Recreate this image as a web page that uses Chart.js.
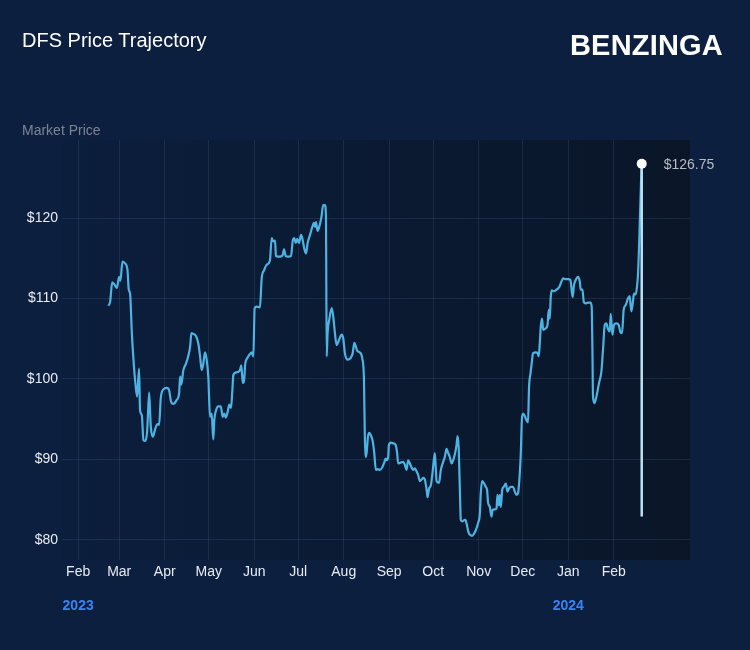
<!DOCTYPE html>
<html>
<head>
<meta charset="utf-8">
<script src="https://cdn.jsdelivr.net/npm/chart.js@4.4.1/dist/chart.umd.min.js"></script>
<style>
  html, body { margin: 0; padding: 0; background: #0c1f3f; overflow: hidden; }
  .wrap { position: relative; width: 750px; height: 650px; font-family: 'Liberation Sans', Arial, sans-serif; }
  .title { position: absolute; left: 22px; top: 29px; color: #ffffff; font-size: 20px; }
  .brand { position: absolute; right: 27px; top: 29px; color: #ffffff; font-size: 29px; font-weight: bold; letter-spacing: 0.2px; }
  .unit { position: absolute; left: 22px; top: 122px; color: #7d8594; font-size: 14px; }
  canvas { position: absolute; left: 0; top: 0; }
</style>
</head>
<body>
<div class="wrap">
  <canvas id="chartPrice" width="750" height="650"></canvas>
  <div class="title">DFS Price Trajectory</div>
  <div class="brand">BENZINGA</div>
  <div class="unit">Market Price</div>
</div>
<script>
// ====== DATA (day 0 = 1 Feb 2023) ======
const days = [
  20.6, 21.8, 23.2, 24.5, 26.4, 27.9, 28.8, 30.2, 31.8, 33.6, 34.5, 35.4, 36.6, 37.7, 39.0, 40.2,
  41.5, 42.2, 43.4, 44.5, 45.6, 47.0, 48.4, 49.5, 50.9, 52.4, 54.0, 55.2, 56.3, 58.1, 60.4, 62.0,
  63.3, 64.9, 67.2, 68.8, 69.5, 70.3, 71.7, 73.5, 75.1, 76.3, 77.2, 78.5, 80.4, 81.9, 83.1, 84.2,
  85.3, 86.5, 87.6, 88.7, 89.9, 91.0, 92.1, 92.8, 94.0, 95.5, 97.2, 98.5, 99.6, 100.6, 101.9, 103.0,
  104.2, 105.1, 105.8, 107.4, 109.2, 110.3, 111.2, 112.2, 113.0, 113.9, 115.3, 117.1, 118.3, 119.4, 120.3, 121.7,
  123.9, 125.1, 126.7, 128.5, 130.7, 131.9, 133.0, 134.2, 134.8, 136.4, 137.6, 139.4, 140.3, 141.4, 143.2, 145.1,
  146.2, 147.3, 148.3, 149.3, 150.5, 151.9, 153.0, 154.1, 155.3, 156.4, 158.0, 159.6, 160.7, 161.4, 162.1, 163.2,
  164.3, 165.7, 167.0, 168.2, 168.9, 169.4, 170.0, 171.1, 172.8, 173.9, 175.0, 176.2, 177.7, 179.6, 180.7, 181.8,
  183.7, 185.7, 187.1, 188.2, 189.3, 190.2, 192.0, 193.6, 194.8, 195.4, 196.3, 197.5, 198.4, 199.5, 200.7, 201.8,
  202.9, 204.1, 205.7, 207.2, 208.6, 209.5, 210.2, 211.3, 211.8, 213.2, 214.7, 216.4, 217.4, 218.1, 219.8, 221.5,
  222.7, 223.8, 224.9, 226.1, 227.2, 228.3, 229.5, 230.7, 231.7, 232.9, 234.1, 235.2, 236.3, 237.5, 238.1, 239.2,
  240.4, 241.5, 243.1, 243.8, 244.3, 246.0, 247.2, 248.8, 249.9, 251.1, 252.2, 253.3, 254.5, 255.6, 256.7, 257.9,
  258.6, 259.3, 260.1, 260.8, 262.0, 263.5, 264.2, 265.1, 266.3, 267.4, 268.5, 269.9, 271.0, 272.6, 273.8, 274.4,
  275.3, 276.7, 277.8, 278.7, 279.4, 280.6, 281.7, 282.4, 284.0, 285.1, 285.8, 286.7, 287.4, 288.1, 289.0, 290.1,
  291.5, 292.6, 293.7, 294.9, 296.4, 297.6, 298.7, 299.8, 301.0, 301.7, 302.4, 303.2, 304.4, 305.5, 306.6, 307.3,
  308.3, 309.4, 310.0, 311.9, 313.1, 313.9, 314.6, 315.3, 316.2, 316.9, 318.7, 319.9, 320.7, 321.4, 322.1, 322.8,
  324.1, 326.0, 327.8, 329.4, 330.5, 332.3, 333.9, 335.5, 336.4, 337.1, 337.8, 339.1, 340.7, 341.9, 342.5, 343.7,
  344.6, 345.9, 347.5, 349.1, 350.0, 350.5, 350.9, 351.9, 353.2, 355.0, 356.6, 357.7, 358.9, 360.0, 361.1, 362.3,
  363.0, 364.1, 365.2, 366.8, 368.4, 369.6, 370.7, 371.8, 373.2, 374.7, 375.9, 377.0, 378.1, 378.8, 380.0, 380.9,
  381.6, 382.2, 382.9, 383.6, 384.1
];
const prices = [
  109.1, 109.6, 112.0, 111.8, 111.3, 112.7, 112.2, 114.6, 114.4, 113.6, 111.1, 110.6, 105.7, 102.4, 99.5, 97.8,
  101.3, 96.1, 95.5, 92.4, 92.3, 93.4, 98.3, 94.1, 92.8, 93.7, 94.4, 94.3, 97.6, 98.7, 98.9, 98.6,
  97.2, 96.9, 97.4, 98.2, 100.3, 99.3, 101.1, 101.9, 102.9, 104.0, 105.7, 105.6, 105.3, 104.4, 102.8, 101.1,
  101.9, 103.3, 102.4, 100.3, 95.3, 95.7, 92.5, 94.9, 96.1, 96.6, 96.6, 95.3, 95.7, 95.2, 95.9, 96.8,
  96.4, 98.6, 100.5, 100.8, 100.9, 101.1, 101.7, 99.5, 99.7, 101.9, 102.6, 103.1, 103.3, 102.8, 108.8, 109.0,
  108.9, 112.5, 113.5, 114.2, 114.7, 117.5, 117.1, 117.2, 115.3, 115.2, 115.2, 115.4, 116.1, 115.3, 115.2, 115.3,
  117.1, 117.5, 116.9, 117.4, 116.9, 117.9, 117.3, 116.2, 115.6, 116.9, 117.9, 118.9, 119.4, 118.9, 119.5, 118.4,
  118.9, 120.0, 121.6, 121.6, 120.2, 102.8, 105.7, 107.3, 108.8, 107.7, 105.7, 104.2, 104.8, 105.5, 105.0, 103.2,
  102.4, 102.6, 103.2, 104.5, 104.0, 103.5, 103.3, 102.6, 99.9, 92.8, 90.3, 92.8, 93.3, 93.0, 92.3, 90.8,
  88.7, 88.8, 88.7, 89.0, 89.6, 90.1, 89.9, 90.3, 91.8, 92.1, 92.0, 91.8, 90.8, 89.5, 89.6, 89.7,
  89.3, 88.7, 89.9, 89.5, 89.0, 88.7, 88.9, 88.5, 88.1, 87.3, 87.5, 87.7, 87.5, 86.2, 85.3, 86.4,
  86.8, 88.3, 90.8, 88.7, 87.3, 87.1, 88.7, 89.7, 90.3, 91.3, 90.8, 90.3, 89.5, 89.9, 90.6, 91.8,
  92.9, 91.6, 86.6, 82.5, 82.3, 82.5, 82.4, 81.7, 80.8, 80.6, 80.5, 80.8, 81.2, 82.1, 83.3, 85.8,
  87.3, 87.0, 86.6, 86.2, 84.6, 84.1, 82.9, 83.7, 83.8, 83.9, 85.6, 84.3, 85.6, 84.1, 86.2, 86.6,
  87.0, 86.0, 86.4, 86.6, 86.6, 86.0, 85.6, 85.8, 88.3, 90.8, 94.9, 95.7, 95.4, 94.9, 94.6, 99.0,
  100.7, 102.4, 103.2, 103.3, 103.2, 102.8, 104.4, 106.5, 107.5, 106.1, 106.3, 106.7, 108.6, 107.5, 110.2, 111.0,
  110.9, 111.1, 111.4, 112.1, 112.5, 112.4, 112.4, 112.3, 110.9, 110.2, 111.5, 112.3, 112.7, 112.1, 111.1, 111.1,
  109.6, 109.4, 109.5, 109.5, 109.0, 103.6, 97.8, 97.0, 97.8, 99.5, 100.9, 103.6, 106.7, 106.9, 106.2, 105.9,
  108.1, 105.5, 106.7, 106.9, 106.7, 105.8, 105.7, 108.6, 109.2, 110.0, 110.3, 108.4, 109.6, 110.6, 110.5, 111.5,
  113.1, 116.0, 120.2, 124.3, 126.75
];
const monthTicks  = [0, 28, 59, 89, 120, 150, 181, 212, 242, 273, 303, 334, 365];
const monthLabels = ['Feb', 'Mar', 'Apr', 'May', 'Jun', 'Jul', 'Aug', 'Sep', 'Oct', 'Nov', 'Dec', 'Jan', 'Feb'];
const yearDays    = [0, 334];
const yearLabels  = ['2023', '2024'];
const priceTicks  = [80, 90, 100, 110, 120];
const markerLow   = 82.9;   // lower end of the last-price drop line

const COLORS = {
    line:   '#4db3e2',
    marker: '#b9e2f3',
    grid:   'rgba(80,110,160,0.22)',
    tick:   '#e8ecf2',
    year:   '#3b82f6',
    label:  '#b8bcc4',
};

const FONT = '"Liberation Sans", Arial, sans-serif';
const lastDay = days[days.length - 1];
const lastPrice = prices[prices.length - 1];

// ====== PLUGINS ======
const plotBackground = {
    id: 'plotBackground',
    beforeDraw(chart) {
        const { ctx, chartArea: a } = chart;
        const g = ctx.createLinearGradient(a.left, 0, a.right, 0);
        g.addColorStop(0, '#0b1e3c');
        g.addColorStop(1, '#0a1628');
        ctx.save();
        ctx.fillStyle = g;
        ctx.fillRect(a.left, a.top, a.right - a.left, a.bottom - a.top);
        ctx.restore();
    }
};

const extraLabels = {
    id: 'extraLabels',
    afterDraw(chart) {
        const { ctx, scales: { x, y } } = chart;
        ctx.save();
        ctx.font = 'bold 14px ' + FONT;
        ctx.fillStyle = COLORS.year;
        ctx.textAlign = 'center';
        ctx.textBaseline = 'middle';
        yearDays.forEach((d, i) => ctx.fillText(yearLabels[i], x.getPixelForValue(d), 606));

        ctx.font = '14px ' + FONT;
        ctx.fillStyle = COLORS.label;
        ctx.textAlign = 'left';
        ctx.fillText('$' + lastPrice.toFixed(2), x.getPixelForValue(lastDay) + 22, y.getPixelForValue(lastPrice) + 1);
        ctx.restore();
    }
};

// ====== CHART ======
new Chart(document.getElementById('chartPrice'), {
    type: 'line',
    data: {
        datasets: [
            {
                data: days.map((d, i) => ({ x: d, y: prices[i] })),
                borderColor: COLORS.line,
                borderWidth: 2.2,
                pointRadius: 0,
                cubicInterpolationMode: 'monotone',
                order: 2,
            },
            {
                data: [{ x: lastDay, y: lastPrice }, { x: lastDay, y: markerLow }],
                borderColor: COLORS.marker,
                borderWidth: 2.5,
                pointRadius: 0,
                order: 1,
            },
            {
                data: [{ x: lastDay, y: lastPrice }],
                showLine: false,
                pointRadius: 5,
                pointBackgroundColor: '#ffffff',
                pointBorderWidth: 0,
                order: 0,
            }
        ]
    },
    options: {
        responsive: false,
        animation: false,
        layout: { padding: { top: 140, right: 60, bottom: 50, left: 0 } },
        plugins: { legend: { display: false }, tooltip: { enabled: false } },
        scales: {
            x: {
                type: 'linear',
                min: -11,
                max: 417,
                afterBuildTicks: s => { s.ticks = monthTicks.map(v => ({ value: v })); },
                afterFit: s => { s.height = 40; },
                ticks: {
                    color: COLORS.tick,
                    padding: 4,
                    maxRotation: 0,
                    autoSkip: false,
                    font: { family: FONT, size: 14 },
                    callback: (v, i) => monthLabels[i],
                },
                grid: { color: COLORS.grid, drawTicks: false },
                border: { display: false },
            },
            y: {
                min: 77.5,
                max: 129.7,
                afterBuildTicks: s => { s.ticks = priceTicks.map(v => ({ value: v })); },
                afterFit: s => { s.width = 62; },
                ticks: {
                    color: COLORS.tick,
                    padding: 4,
                    font: { family: FONT, size: 14 },
                    callback: v => '$' + v,
                },
                grid: { color: COLORS.grid, drawTicks: false },
                border: { display: false },
            }
        }
    },
    plugins: [plotBackground, extraLabels]
});
</script>
</body>
</html>
